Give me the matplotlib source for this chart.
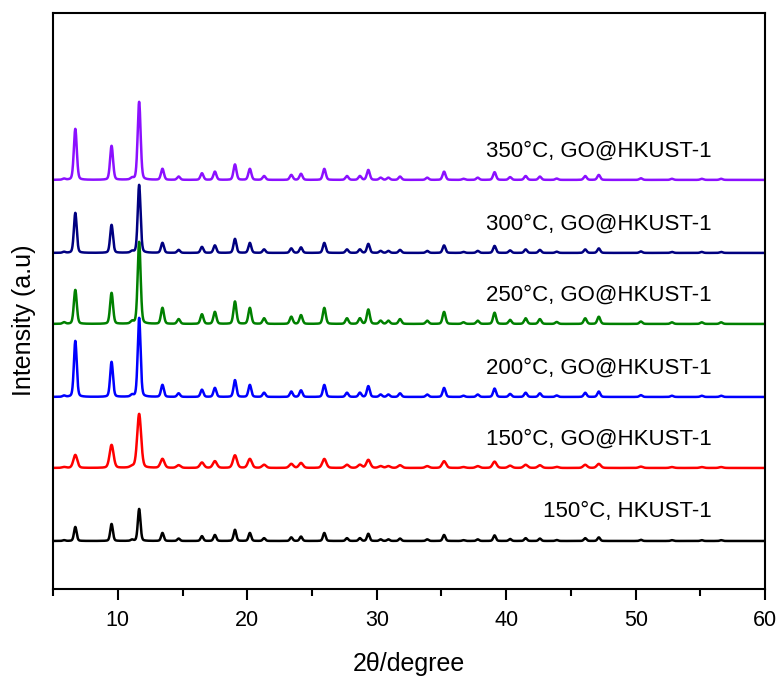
# XRD patterns of HKUST-1 and GO@HKUST-1 at different temperatures

import numpy as np
import matplotlib
matplotlib.use('Agg')
import matplotlib.pyplot as plt
from matplotlib.ticker import MultipleLocator

plt.rcParams['font.family'] = ['Liberation Sans', 'DejaVu Sans']

## data
labels = ['150°C, HKUST-1', '150°C, GO@HKUST-1', '200°C, GO@HKUST-1',
          '250°C, GO@HKUST-1', '300°C, GO@HKUST-1', '350°C, GO@HKUST-1']
colors = ['black', '#ff0000', '#0000ff', '#008000', '#000080', '#8b10ff']
offsets = [48, 121, 192, 265, 336, 409]

# the three strong reflections, height per pattern
main_pos = [6.72, 9.52, 11.65]
main_height = [[14, 17, 32],
               [13, 23, 54],
               [56, 35, 79],
               [34, 31, 82],
               [40, 28, 68],
               [51, 34, 78]]
# weaker reflections, relative to the 25.9 peak
minor_pos = [5.85, 11.1, 13.45, 14.7, 16.5, 17.5, 19.05, 20.2, 21.3, 23.4, 24.15,
             25.95, 27.7, 28.7, 29.35, 30.3, 30.9, 31.8, 33.9, 35.2, 36.7, 37.8,
             39.1, 40.3, 41.5, 42.6, 43.9, 46.1, 47.15, 50.4, 52.8, 55.1, 56.6]
minor_rel = [0.1, 0.15, 1.0, 0.3, 0.6, 0.75, 1.4, 1.0, 0.35, 0.45, 0.55,
             1.0, 0.35, 0.35, 0.9, 0.2, 0.2, 0.3, 0.2, 0.75, 0.1, 0.2,
             0.7, 0.25, 0.35, 0.3, 0.12, 0.35, 0.45, 0.15, 0.1, 0.1, 0.1]
minor_scale = [8, 9, 12, 16, 10, 11]
fwhm = [0.24, 0.36, 0.26, 0.27, 0.26, 0.27]

two_theta = np.linspace(5, 60, 5501)


def pattern(pos, height, w):
    # pseudo-voigt peaks on a flat baseline
    y = np.zeros_like(two_theta)
    for p, h in zip(pos, height):
        d = (two_theta - p) / (w / 2)
        y += h * (0.75 * np.exp(-np.log(2) * d ** 2) + 0.25 / (1 + d ** 2))
    return y


fig = plt.figure(figsize=(7.8, 6.77), dpi=100)
ax = fig.add_axes([0.068, 0.130, 0.913, 0.851])

for i in range(len(labels)):
    pos = main_pos + minor_pos
    hts = main_height[i] + [r * minor_scale[i] for r in minor_rel]
    y = offsets[i] + pattern(pos, hts, fwhm[i])
    ax.plot(two_theta, y, color=colors[i], lw=1.8)
    ax.text(55.9, offsets[i] + 29, labels[i], ha='right', va='center', fontsize=16)

ax.set_xlim(5, 60)
ax.set_ylim(0, 576)
ax.xaxis.set_major_locator(MultipleLocator(10))
ax.xaxis.set_minor_locator(MultipleLocator(5))
ax.tick_params(axis='x', which='major', length=8, width=1.5, labelsize=15.5, pad=7)
ax.tick_params(axis='x', which='minor', length=5, width=1.5)
ax.set_yticks([])
for s in ax.spines.values():
    s.set_linewidth(1.5)

ax.set_xlabel('2θ/degree', fontsize=18, labelpad=15)
ax.set_ylabel('Intensity (a.u)', fontsize=18)
ax.yaxis.set_label_coords(-0.024, 0.467)

plt.savefig('out.png', dpi=100)
